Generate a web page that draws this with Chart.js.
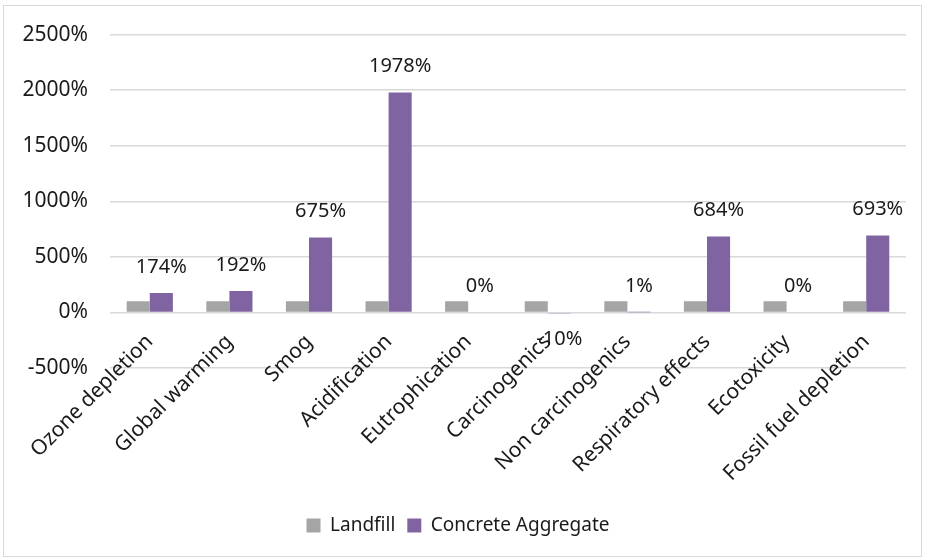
<!DOCTYPE html>
<html>
<head>
<meta charset="utf-8">
<script src="https://cdn.jsdelivr.net/npm/chart.js@4/dist/chart.umd.min.js"></script>
<style>
  html, body { margin: 0; padding: 0; background: #fff; }
  #wrap { position: absolute; left: 0; top: 0; width: 925px; height: 559px; }
  #frame { position: absolute; left: 3px; top: 5px; width: 917px; height: 550px; border: 1px solid #d9d9d9; pointer-events: none; }
</style>
</head>
<body>
<div id="wrap"><canvas id="c" width="925" height="559"></canvas></div>
<div id="frame"></div>
<script>
const categories = ["Ozone depletion", "Global warming", "Smog", "Acidification", "Eutrophication", "Carcinogenics", "Non carcinogenics", "Respiratory effects", "Ecotoxicity", "Fossil fuel depletion"];
const landfill = [100, 100, 100, 100, 100, 100, 100, 100, 100, 100];
const concreteAggregate = [174, 192, 675, 1978, 0, -10, 1, 684, 0, 693];
const yTicks = [-500, 0, 500, 1000, 1500, 2000, 2500];

const FONT = "'Noto Sans', 'Open Sans', sans-serif";
const TEXT = '#1a1a1a';

const labelPlugin = {
  id: 'barLabels',
  afterDatasetsDraw(chart) {
    const ctx = chart.ctx;
    const meta = chart.getDatasetMeta(1);
    ctx.save();
    ctx.font = '20px ' + FONT;
    ctx.fillStyle = TEXT;
    ctx.textAlign = 'center';
    ctx.textBaseline = 'middle';
    meta.data.forEach((el, i) => {
      const v = concreteAggregate[i];
      const y = v >= 0 ? el.y - 26 : el.y + 26;
      ctx.fillText(v + '%', el.x, y);
    });
    ctx.restore();
  }
};

new Chart(document.getElementById('c'), {
  type: 'bar',
  data: {
    labels: categories,
    datasets: [
      { label: 'Landfill', data: landfill, backgroundColor: '#a5a5a5', categoryPercentage: 0.58, barPercentage: 1.0 },
      { label: 'Concrete Aggregate', data: concreteAggregate, backgroundColor: '#8064a2', categoryPercentage: 0.58, barPercentage: 1.0 }
    ]
  },
  options: {
    responsive: false,
    animation: false,
    layout: { padding: { top: 33, right: 19, left: 10, bottom: 14 } },
    plugins: {
      legend: {
        position: 'bottom',
        labels: {
          font: { family: FONT, size: 19 },
          color: TEXT,
          boxWidth: 14,
          boxHeight: 14,
          padding: 12
        }
      },
      tooltip: { enabled: false }
    },
    scales: {
      y: {
        min: -500,
        max: 2500,
        afterBuildTicks(scale) { scale.ticks = yTicks.map(v => ({ value: v })); },
        afterFit(scale) { scale.width = 100; },
        ticks: {
          font: { family: FONT, size: 21 },
          color: TEXT,
          padding: 22,
          callback: v => v + '%'
        },
        grid: { color: '#d9d9d9', lineWidth: 1.5, drawTicks: false },
        border: { display: false }
      },
      x: {
        position: { y: 0 },
        ticks: {
          font: { family: FONT, size: 21 },
          color: TEXT,
          minRotation: 45,
          maxRotation: 45,
          autoSkip: false,
          padding: 17
        },
        grid: { display: false, drawTicks: false },
        border: { display: false }
      },
      xSpace: {
        type: 'category',
        labels: categories,
        position: 'bottom',
        afterFit(scale) { scale.height = 136; },
        ticks: { display: false },
        grid: { display: false, drawTicks: false },
        border: { display: false }
      }
    }
  },
  plugins: [labelPlugin]
});
</script>
</body>
</html>
